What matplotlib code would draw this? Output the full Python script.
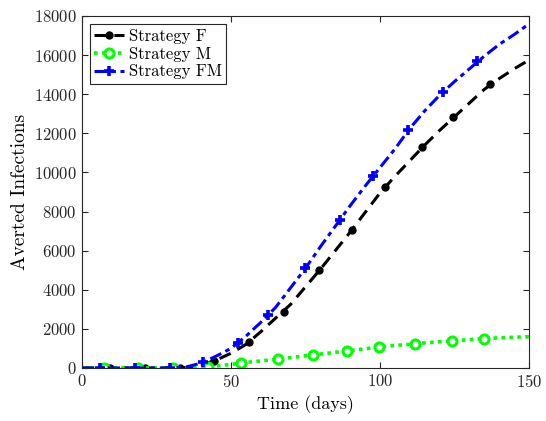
import matplotlib.pyplot as plt
from matplotlib.lines import Line2D

plt.rcParams['font.family'] = ['cmr10', 'DejaVu Serif']
plt.rcParams['mathtext.fontset'] = 'cm'
plt.rcParams['axes.formatter.use_mathtext'] = True

# smooth curves, every 5 days
t = [0, 5, 10, 15, 20, 25, 30, 35, 40, 45, 50, 55, 60, 65, 70, 75, 80, 85, 90, 95,
     100, 105, 110, 115, 120, 125, 130, 135, 140, 145, 150]
F = [0, 0, 0, 0, 0, 0, 0, 20, 150, 400, 750, 1200, 1850, 2550, 3250, 4150, 5050, 6000,
     6950, 7950, 8950, 9800, 10600, 11400, 12150, 12850, 13550, 14250, 14800, 15300, 15750]
M = [0, 0, 0, 0, 0, 0, 0, 0, 30, 100, 180, 280, 360, 440, 530, 620, 710, 800, 890, 980,
     1080, 1150, 1210, 1280, 1340, 1390, 1450, 1500, 1540, 1570, 1600]
FM = [0, 0, 0, 0, 0, 0, 0, 50, 250, 600, 1000, 1620, 2330, 3100, 4100, 5100, 6200, 7250,
      8300, 9300, 10250, 11200, 12250, 13150, 13950, 14650, 15300, 15950, 16550, 17050, 17600]

# marker positions
tF_mk = [9.4, 21.0, 32.9, 44.3, 56.0, 67.8, 79.5, 90.6, 101.7, 114.0, 124.5, 137.0]
F_mk = [0, 0, 0, 358, 1330, 2860, 5000, 7050, 9250, 11300, 12830, 14520]
tM_mk = [7.4, 18.8, 30.5, 42.3, 53.4, 65.8, 77.5, 88.9, 99.7, 111.7, 124.0, 135.0]
M_mk = [0, 0, 0, 50, 250, 450, 660, 870, 1075, 1230, 1380, 1500]
tFM_mk = [6.0, 17.8, 29.5, 40.6, 52.3, 62.4, 75.0, 86.6, 97.6, 109.4, 121.0, 132.5]
FM_mk = [0, 0, 0, 300, 1280, 2700, 5100, 7570, 9820, 12170, 14110, 15700]

fig = plt.figure(figsize=(5.46, 4.21), dpi=100)
ax = fig.add_axes([0.150, 0.126, 0.819, 0.836])

green = (0, 1, 0)
ax.plot(t, F, color='k', ls=(0, (4, 2.5)), lw=2.2)
ax.plot(tF_mk, F_mk, color='k', ls='none', marker='o', ms=5)
ax.plot(t, M, color=green, ls=(0, (1, 1.2)), lw=2.6)
ax.plot(tM_mk, M_mk, color=green, ls='none', marker='o', ms=6.5, mfc='white', mew=2.2)
ax.plot(t, FM, color='b', ls=(0, (4, 1.5, 1.5, 1.5)), lw=2.2)
ax.plot(tFM_mk, FM_mk, color='b', ls='none', marker='+', ms=6.5, mew=2.6)

handles = [
    Line2D([], [], color='k', ls=(0, (4, 2.5)), lw=2.2, marker='o', ms=5),
    Line2D([], [], color=green, ls=(0, (1, 1.2)), lw=2.6, marker='o', ms=6.5, mfc='white', mew=2.2),
    Line2D([], [], color='b', ls=(0, (4, 1.5, 1.5, 1.5)), lw=2.2, marker='+', ms=6.5, mew=2.6),
]
leg = ax.legend(handles, ['Strategy F', 'Strategy M', 'Strategy FM'], loc='upper left',
                fontsize=12, fancybox=False, edgecolor='#262626', framealpha=1,
                handlelength=1.8, handletextpad=0.25, borderpad=0.25, labelspacing=0.15,
                borderaxespad=0.5)
leg.get_frame().set_linewidth(0.8)

ax.set_xlim(0, 150)
ax.set_ylim(0, 18000)
ax.set_xticks([0, 50, 100, 150])
ax.set_yticks(range(0, 18001, 2000))
ax.tick_params(direction='in', top=True, right=True, labelsize=12, colors='#262626',
               length=4)
for s in ax.spines.values():
    s.set_color('#262626')
    s.set_linewidth(0.8)
ax.set_xlabel('Time (days)', fontsize=13)
ax.set_ylabel('Averted Infections', fontsize=14)

fig.savefig('out.png', dpi=100)
